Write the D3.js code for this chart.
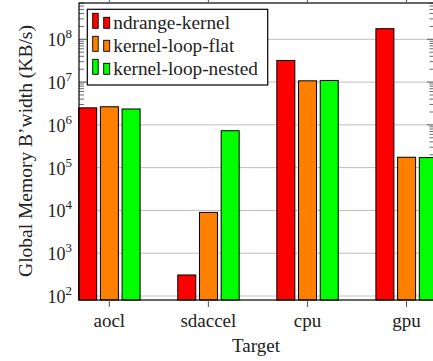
<!DOCTYPE html>
<html>
<head>
<meta charset="utf-8">
<script src="https://cdn.jsdelivr.net/npm/d3@7"></script>
<style>
  html, body { margin: 0; padding: 0; background: #fff; }
  svg { display: block; }
</style>
</head>
<body>
<svg id="chart" width="433" height="361" font-family="'Liberation Serif', 'Times New Roman', Times, Tinos, 'DejaVu Serif', 'Noto Serif', FreeSerif, serif"></svg>
<script>
// ---- data ----
const categories = ["aocl", "sdaccel", "cpu", "gpu"];
const seriesNames = ["ndrange-kernel", "kernel-loop-flat", "kernel-loop-nested"];
const seriesColors = ["#ff0000", "#ff8000", "#00ff00"];
const ndrangeKernel    = [2.5e6, 310, 3.2e7, 1.77e8];
const kernelLoopFlat   = [2.65e6, 9000, 1.07e7, 1.75e5];
const kernelLoopNested = [2.35e6, 7.3e5, 1.09e7, 1.72e5];
const yTickExponents = [2, 3, 4, 5, 6, 7, 8];
const xAxisTitle = "Target";
const yAxisTitle = "Global Memory B\u2019width (KB/s)";

const seriesValues = [ndrangeKernel, kernelLoopFlat, kernelLoopNested];

// ---- layout ----
const svg = d3.select("#chart");
const plot = { left: 79, right: 434.5, top: 3, bottom: 300 };

const x = d3.scalePoint().domain(categories).range([109.3, 406.5]);
const xs = d3.scalePoint().domain(seriesNames).range([-21.6, 21.8]);
const barW = 18;

const y = d3.scaleLog().domain([1e2, 1e8]).range([296, 39.3]);

// grid lines
const gridG = svg.append("g");
yTickExponents.forEach(e => {
  gridG.append("line")
    .attr("x1", plot.left).attr("x2", plot.right)
    .attr("y1", y(Math.pow(10, e))).attr("y2", y(Math.pow(10, e)))
    .attr("stroke", e === 2 ? "#d8d8d8" : "#bdbdbd")
    .attr("stroke-width", e === 2 ? 1.6 : 1);
});

// minor & major ticks on left/right (inward)
const yMin = y.invert(plot.bottom), yMax = y.invert(plot.top);
const tickG = svg.append("g").attr("stroke", "#444").attr("stroke-width", 0.8);
for (let e = 1; e <= 9; e++) {
  for (let m = 1; m <= 9; m++) {
    const v = m * Math.pow(10, e);
    if (v < yMin || v > yMax) continue;
    const len = m === 1 ? 7.5 : 5;
    const yy = y(v);
    tickG.append("line").attr("x1", plot.left).attr("x2", plot.left + len).attr("y1", yy).attr("y2", yy);
    tickG.append("line").attr("x1", plot.right).attr("x2", plot.right - len).attr("y1", yy).attr("y2", yy);
  }
}

// bars
const barsG = svg.append("g");
seriesNames.forEach((s, si) => {
  barsG.selectAll(null)
    .data(categories.map((c, ci) => ({ c, v: seriesValues[si][ci] })))
    .enter().append("rect")
    .attr("x", d => x(d.c) + xs(s) - barW / 2)
    .attr("y", d => y(d.v))
    .attr("width", barW)
    .attr("height", d => plot.bottom - y(d.v))
    .attr("fill", seriesColors[si])
    .attr("stroke", "#000")
    .attr("stroke-width", 1);
});

// frame
svg.append("rect")
  .attr("x", plot.left).attr("y", plot.top)
  .attr("width", plot.right - plot.left).attr("height", plot.bottom - plot.top)
  .attr("fill", "none").attr("stroke", "#000").attr("stroke-width", 1.2);

// x ticks (outward, top and bottom)
const xtG = svg.append("g").attr("stroke", "#555").attr("stroke-width", 1);
categories.forEach(c => {
  xtG.append("line").attr("x1", x(c)).attr("x2", x(c)).attr("y1", plot.bottom).attr("y2", plot.bottom + 7);
  xtG.append("line").attr("x1", x(c)).attr("x2", x(c)).attr("y1", plot.top).attr("y2", plot.top - 7);
});

const txtFill = "#222";

// x tick labels
svg.append("g").selectAll("text").data(categories).enter().append("text")
  .attr("x", d => x(d)).attr("y", 327)
  .attr("text-anchor", "middle")
  .attr("font-size", 19).attr("fill", txtFill)
  .text(d => d);

// y tick labels
const ylG = svg.append("g");
yTickExponents.forEach(e => {
  const t = ylG.append("text")
    .attr("x", 72).attr("y", y(Math.pow(10, e)) + 7)
    .attr("text-anchor", "end")
    .attr("font-size", 18).attr("fill", txtFill);
  t.append("tspan").text("10");
  t.append("tspan").attr("dy", -8).attr("font-size", 13).text(String(e));
});

// axis titles
svg.append("text")
  .attr("x", 256).attr("y", 352)
  .attr("text-anchor", "middle").attr("font-size", 19).attr("fill", txtFill)
  .text(xAxisTitle);
svg.append("text")
  .attr("transform", "translate(32,151) rotate(-90)")
  .attr("text-anchor", "middle").attr("font-size", 19.5).attr("fill", txtFill)
  .text(yAxisTitle);

// legend
const lg = svg.append("g");
lg.append("rect")
  .attr("x", 87.3).attr("y", 9.3).attr("width", 180.4).attr("height", 75.7)
  .attr("fill", "#fff").attr("stroke", "#000").attr("stroke-width", 1.2);
seriesNames.forEach((s, i) => {
  const oy = 23 * i;
  lg.append("rect").attr("x", 92.7).attr("y", 13.3 + oy).attr("width", 5.5).attr("height", 15)
    .attr("fill", seriesColors[i]).attr("stroke", "#000").attr("stroke-width", 0.9);
  lg.append("rect").attr("x", 103.7).attr("y", 17.3 + oy).attr("width", 6).attr("height", 11)
    .attr("fill", seriesColors[i]).attr("stroke", "#000").attr("stroke-width", 0.9);
  lg.append("text").attr("x", 113.3).attr("y", 29 + oy).attr("font-size", 19.3).attr("fill", txtFill).text(s);
});
</script>
</body>
</html>
